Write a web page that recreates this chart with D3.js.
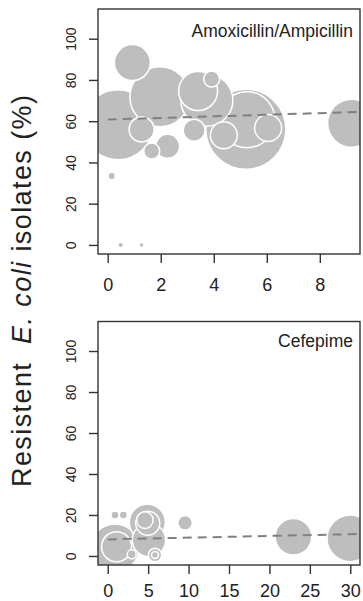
<!DOCTYPE html>
<html>
<head>
<meta charset="utf-8">
<script src="https://cdn.jsdelivr.net/npm/d3@7"></script>
<style>
  body { margin: 0; background: #fff; }
  svg { display: block; font-family: "Liberation Sans", Arial, sans-serif; }
</style>
</head>
<body>
<div id="chart"></div>
<script>
// Amoxicillin/Ampicillin panel: usage (x), resistance % (y), number of isolates (n)
const amoxX = [0.39, 0.93, 1.97, 1.28, 1.66, 2.26, 3.41, 3.74, 3.92, 3.26, 4.38, 5.21, 5.25, 6.05, 9.2, 0.15, 0.49, 1.28];
const amoxY = [58.3, 88.4, 71.8, 56.0, 45.5, 47.8, 74.6, 70.2, 80.4, 55.6, 53.2, 56.1, 60.7, 56.7, 59.0, 33.4, 0, 0];
const amoxN = [1225, 324, 900, 156, 64, 144, 380, 676, 64, 121, 182, 1600, 784, 182, 576, 14, 4, 3];

// Cefepime panel
const cefX = [0.9, 1.1, 0.9, 1.93, 4.9, 4.95, 4.6, 5.1, 5.85, 5.85, 2.97, 1.93, 0.07, 9.57, 22.97, 30.0];
const cefY = [3.9, 4.5, 20, 20, 16.5, 16, 17.5, 7.8, 0.5, 0.5, 0.8, 1.0, 1.0, 16.2, 9.4, 8.6];
const cefN = [576, 225, 16, 16, 324, 144, 69, 279, 45, 12, 20, 6, 3, 53, 335, 543];

// fitted trend lines: [intercept, slope]
const amoxFit = [60.8, 0.39];
const cefFit = [8.1, 0.084];

// axis ranges and ticks
const amoxXRange = [0, 9.15];
const cefXRange = [0, 30];
const yRange = [0, 110];
const amoxXTicks = [0, 2, 4, 6, 8];
const cefXTicks = [0, 5, 10, 15, 20, 25, 30];
const yTicks = [0, 20, 40, 60, 80, 100];

const width = 363, height = 601;
const left = 98, right = 360;

const svg = d3.select('#chart').append('svg')
    .attr('width', width)
    .attr('height', height);

// radius from number of isolates (area proportional)
const rScale = d3.scaleSqrt().domain([0, 1600]).range([0, 40]);

// R style 4% axis extension
function extend(r) {
    const pad = (r[1] - r[0]) * 0.04;
    return [r[0] - pad, r[1] + pad];
}

function drawPanel(id, top, bottom, xs, ys, ns, fit, xRange, xTicks, title, titleBaseline, labelPad) {
    const xScale = d3.scaleLinear().domain(extend(xRange)).range([left, right]);
    const yScale = d3.scaleLinear().domain(extend(yRange)).range([bottom, top]);

    svg.append('clipPath').attr('id', id)
        .append('rect')
        .attr('x', left).attr('y', top)
        .attr('width', right - left).attr('height', bottom - top);

    const g = svg.append('g').attr('clip-path', `url(#${id})`);

    // bubbles, largest first
    const pts = xs.map((x, i) => ({ x: x, y: ys[i], n: ns[i] }))
        .sort((a, b) => b.n - a.n);

    g.selectAll('circle')
        .data(pts)
        .enter()
        .append('circle')
        .attr('cx', d => xScale(d.x))
        .attr('cy', d => yScale(d.y))
        .attr('r', d => rScale(d.n))
        .attr('fill', '#bebebe')
        .attr('stroke', '#ffffff')
        .attr('stroke-width', d => d.n < 10 ? 0 : 1.5);

    // dashed trend line
    const x1 = xScale.domain()[1];
    g.append('line')
        .attr('x1', xScale(0))
        .attr('y1', yScale(fit[0]))
        .attr('x2', xScale(x1))
        .attr('y2', yScale(fit[0] + fit[1] * x1))
        .attr('stroke', '#808080')
        .attr('stroke-width', 2)
        .attr('stroke-dasharray', '9,6');

    // box
    svg.append('rect')
        .attr('x', left).attr('y', top)
        .attr('width', right - left).attr('height', bottom - top)
        .attr('fill', 'none')
        .attr('stroke', '#333')
        .attr('stroke-width', 1.4);

    // x axis
    const xAxis = svg.append('g')
        .attr('transform', `translate(0,${bottom})`)
        .call(d3.axisBottom(xScale).tickValues(xTicks).tickSize(9).tickPadding(labelPad).tickSizeOuter(0));
    xAxis.select('.domain').remove();
    xAxis.selectAll('line').attr('stroke', '#333').attr('stroke-width', 1.4);
    xAxis.selectAll('text')
        .attr('fill', '#222')
        .style('font-size', '18px')
        .style('font-family', '"Liberation Sans", Arial, sans-serif');

    // y axis with rotated labels
    const yAxis = svg.append('g')
        .attr('transform', `translate(${left},0)`)
        .call(d3.axisLeft(yScale).tickValues(yTicks).tickSize(9).tickSizeOuter(0));
    yAxis.select('.domain').remove();
    yAxis.selectAll('line').attr('stroke', '#333').attr('stroke-width', 1.4);
    yAxis.selectAll('text')
        .attr('x', null)
        .attr('dy', null)
        .attr('text-anchor', 'middle')
        .attr('transform', 'translate(-22,0) rotate(-90)')
        .attr('fill', '#222')
        .style('font-size', '14px')
        .style('font-family', '"Liberation Sans", Arial, sans-serif');

    // panel title
    svg.append('text')
        .attr('x', 353)
        .attr('y', titleBaseline)
        .attr('text-anchor', 'end')
        .attr('fill', '#222')
        .style('font-size', '17.5px')
        .text(title);
}

drawPanel('clipA', 9, 254, amoxX, amoxY, amoxN, amoxFit, amoxXRange, amoxXTicks, 'Amoxicillin/Ampicillin', 37, 15);
drawPanel('clipB', 321.5, 565, cefX, cefY, cefN, cefFit, cefXRange, cefXTicks, 'Cefepime', 347, 10);

// shared y axis title
const yTitle = svg.append('text')
    .attr('transform', 'translate(31,291) rotate(-90)')
    .attr('text-anchor', 'middle')
    .attr('fill', '#222')
    .attr('textLength', 392)
    .attr('lengthAdjust', 'spacing')
    .style('font-size', '27px');
yTitle.append('tspan').text('Resistent\u00a0 ');
yTitle.append('tspan').style('font-style', 'italic').text('E. coli');
yTitle.append('tspan').text(' isolates (%)');
</script>
</body>
</html>
